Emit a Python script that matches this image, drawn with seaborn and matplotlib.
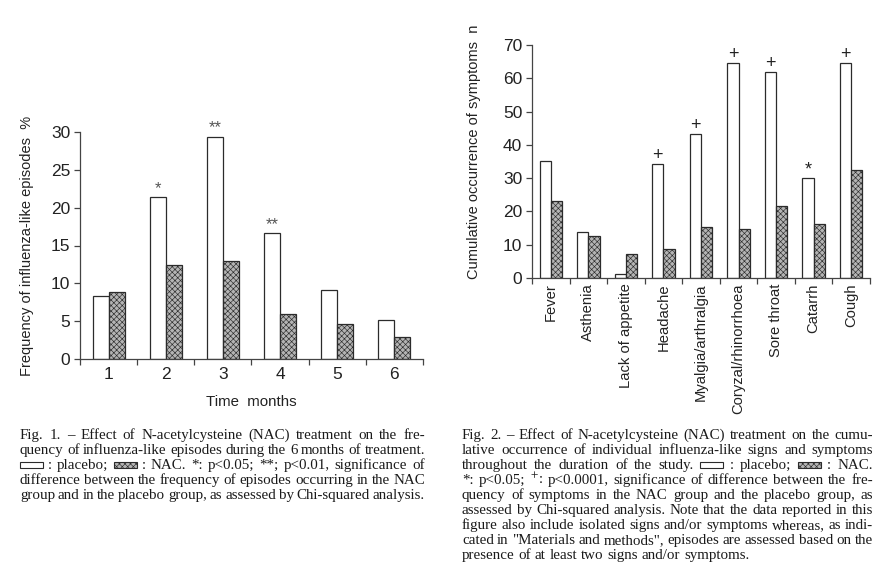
"""Two-panel bar figure: NAC vs placebo influenza-like episodes and symptoms."""

import matplotlib

matplotlib.use("Agg")
import matplotlib.pyplot as plt
import numpy as np
import pandas as pd
import seaborn as sns
from matplotlib.patches import Rectangle

# --- data -----------------------------------------------------------------
months = ["1", "2", "3", "4", "5", "6"]
episodes_placebo = [8.3, 21.4, 29.4, 16.6, 9.1, 5.1]
episodes_nac = [8.8, 12.4, 12.9, 6.0, 4.6, 2.9]
episodes_marks = ["", "*", "**", "**", "", ""]

symptoms = [
    "Fever", "Asthenia", "Lack of appetite", "Headache", "Myalgia/arthralgia",
    "Coryzal/rhinorrhoea", "Sore throat", "Catarrh", "Cough",
]
symptoms_placebo = [35.2, 13.8, 1.1, 34.2, 43.4, 64.6, 61.9, 29.9, 64.6]
symptoms_nac = [23.1, 12.6, 7.2, 8.8, 15.2, 14.6, 21.6, 16.1, 32.3]
symptoms_marks = ["", "", "", "+", "+", "+", "+", "*", "+"]

caption1 = [
    "Fig. 1.  –  Effect of N-acetylcysteine (NAC) treatment on the fre-",
    "quency of influenza-like episodes during the 6 months of treatment.",
    "[P] : placebo; [N] : NAC. *: p<0.05; **; p<0.01, significance of",
    "difference between the frequency of episodes occurring in the NAC",
    "group and in the placebo group, as assessed by Chi-squared analysis.",
]
caption2 = [
    "Fig. 2.  –  Effect of N-acetylcysteine (NAC) treatment on the cumu-",
    "lative occurrence of individual influenza-like signs and symptoms",
    "throughout the duration of the study. [P] : placebo; [N] : NAC.",
    "*: p<0.05; $^{+}$: p<0.0001, significance of difference between the fre-",
    "quency of symptoms in the NAC group and the placebo group, as",
    "assessed by Chi-squared analysis. Note that the data reported in this",
    "figure also include isolated signs and/or symptoms whereas, as indi-",
    "cated in \"Materials and methods\", episodes are assessed based on the",
    "presence of at least two signs and/or symptoms.",
]

W, H = 895, 578
PALETTE = {"placebo": "white", "NAC": "#b4b4b4"}
EDGE = "#2b2b2b"
SANS = ["Liberation Sans", "DejaVu Sans"]
SERIF = ["Liberation Serif", "DejaVu Serif"]
HATCH = "xxxxxx"

sns.set_style("ticks")
plt.rcParams["font.family"] = SANS
plt.rcParams["mathtext.fontset"] = "stix"
plt.rcParams["hatch.linewidth"] = 0.45


def pixel_axes(fig, left, top, right, bottom):
    return fig.add_axes([left / W, 1 - bottom / H, (right - left) / W, (bottom - top) / H])


def draw_bars(ax, labels, placebo, nac, marks, width, mark_color, mark_size, mark_offset):
    frame = pd.DataFrame({
        "label": labels * 2,
        "value": placebo + nac,
        "group": ["placebo"] * len(labels) + ["NAC"] * len(labels),
    })
    sns.barplot(
        data=frame, x="label", y="value", hue="group", order=labels,
        hue_order=["placebo", "NAC"], palette=PALETTE, saturation=1,
        width=width, edgecolor=EDGE, linewidth=0.9, legend=False, ax=ax,
    )
    for bar in ax.containers[1]:
        bar.set_hatch(HATCH)
    for bar, mark in zip(ax.containers[0], marks):
        if mark:
            ax.annotate(
                mark, (bar.get_x() + bar.get_width() / 2, bar.get_height()),
                xytext=(0, mark_offset), textcoords="offset points",
                ha="center", va="bottom", fontsize=mark_size, color=mark_color,
            )
    n = len(labels)
    ax.set_xlim(-0.5, n - 0.5)
    ax.set_xticks(np.arange(-0.5, n), minor=True)
    ax.tick_params(axis="x", which="major", length=0, pad=6)
    ax.tick_params(axis="x", which="minor", length=4, width=0.9, color="#444")
    ax.tick_params(axis="y", length=4, width=0.9, color="#444", pad=3)
    ax.tick_params(labelsize=12.5, labelcolor="#222")
    for side in ("left", "bottom"):
        ax.spines[side].set_color("#444")
        ax.spines[side].set_linewidth(0.9)
    sns.despine(ax=ax)


def draw_caption(fig, lines, left, right, top, step, justify_last=True):
    renderer = fig.canvas.get_renderer()
    for i, line in enumerate(lines):
        base = top + i * step
        tokens = line.split()
        items, widths = [], []
        for tok in tokens:
            if tok in ("[P]", "[N]"):
                items.append(tok)
                widths.append(23)
            else:
                t = fig.text(0, 0, tok, family=SERIF, fontsize=10.8, color="#1a1a1a",
                             ha="left", va="baseline")
                items.append(t)
                widths.append(t.get_window_extent(renderer).width)
        last = i == len(lines) - 1
        if len(tokens) > 1 and (justify_last or not last):
            gap = (right - left - sum(widths)) / (len(tokens) - 1)
        else:
            gap = 3.8
        x = left
        for item, w in zip(items, widths):
            if isinstance(item, str):
                fill = PALETTE["placebo"] if item == "[P]" else PALETTE["NAC"]
                fig.add_artist(Rectangle(
                    (x / W, 1 - (base - 1) / H), w / W, 6.5 / H,
                    transform=fig.transFigure, facecolor=fill, edgecolor=EDGE,
                    linewidth=0.8, hatch=None if item == "[P]" else HATCH,
                ))
            else:
                item.set_position((x / W, 1 - base / H))
            x += w + gap


fig = plt.figure(figsize=(W / 100, H / 100), dpi=100)

# Fig. 1 -- episodes per month
ax1 = pixel_axes(fig, 80, 132, 423, 359)
draw_bars(ax1, months, episodes_placebo, episodes_nac, episodes_marks,
          width=0.56, mark_color="#555", mark_size=12, mark_offset=1)
ax1.set_ylim(0, 30)
ax1.set_yticks(range(0, 31, 5))
ax1.set_xlabel("Time  months", fontsize=10.8, color="#222", labelpad=9)
ax1.set_ylabel("Frequency of influenza-like episodes  %", fontsize=10.5, color="#222")
ax1.yaxis.set_label_coords(-0.133, 0.5)

# Fig. 2 -- cumulative symptoms
ax2 = pixel_axes(fig, 532, 45, 870, 278)
draw_bars(ax2, symptoms, symptoms_placebo, symptoms_nac, symptoms_marks,
          width=0.6, mark_color="#222", mark_size=13, mark_offset=0)
ax2.set_ylim(0, 70)
ax2.set_yticks(range(0, 71, 10))
ax2.tick_params(axis="x", which="major", rotation=90, pad=4, labelsize=10.6)
ax2.set_xlabel("")
ax2.set_ylabel("Cumulative occurrence of symptoms  n", fontsize=10.5, color="#222")
ax2.yaxis.set_label_coords(-0.151, 0.54)

draw_caption(fig, caption1, 20, 425, 439, 15.0)
draw_caption(fig, caption2, 462, 873, 439, 15.0, justify_last=False)

fig.savefig("out.png", dpi=100)
